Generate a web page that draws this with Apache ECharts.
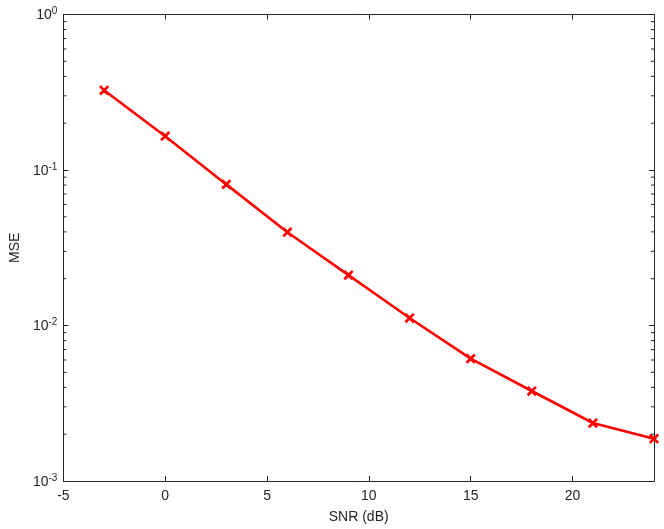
<!DOCTYPE html>
<html><head><meta charset="utf-8">
<script src="https://cdn.jsdelivr.net/npm/echarts@6/dist/echarts.min.js"></script>
<style>html,body{margin:0;padding:0;background:#fff}#c{width:664px;height:529px}</style>
</head><body><div id="c"></div>
<script>
const snr = [-3, 0, 3, 6, 9, 12, 15, 18, 21, 24];
const mse = [0.3255, 0.165, 0.0808, 0.0398, 0.0211, 0.01117, 0.00612, 0.00379, 0.00236, 0.00187];
const xTicks = [-5, 0, 5, 10, 15, 20];
const yMinor = [];
[1e-3, 1e-2, 1e-1].forEach(d => { for (let k = 2; k <= 9; k++) yMinor.push(+(k * d).toPrecision(3)); });

const X_MIN = -5, X_MAX = 24;
const AX = '#262626';
const FONT = 'Liberation Sans';

const chart = echarts.init(document.getElementById('c'), null, {renderer: 'canvas'});
const xBase = {
  type: 'value', min: X_MIN, max: X_MAX, interval: 5,
  axisLine: {show: true, onZero: false, lineStyle: {color: AX, width: 1}},
  axisTick: {show: true, inside: true, length: 5, lineStyle: {color: AX}},
  splitLine: {show: false}
};
const yBase = {
  type: 'log', min: 1e-3, max: 1, logBase: 10, interval: 1,
  axisLine: {show: true, onZero: false, lineStyle: {color: AX, width: 1}},
  axisTick: {show: true, inside: true, length: 5, lineStyle: {color: AX}},
  splitLine: {show: false}
};
chart.setOption({
  animation: false,
  textStyle: {fontFamily: FONT},
  grid: {left: 61.5, right: 10, top: 14.5, bottom: 46.5, containLabel: false},
  xAxis: [
    Object.assign({}, xBase, {
      position: 'bottom', name: 'SNR (dB)', nameLocation: 'middle', nameGap: 29,
      nameTextStyle: {color: AX, fontSize: 14, fontFamily: FONT},
      axisLabel: {show: true, color: AX, fontSize: 14, fontFamily: FONT, margin: 8,
        formatter: v => xTicks.indexOf(v) >= 0 ? String(v) : ''}
    }),
    Object.assign({}, xBase, {position: 'top', axisLabel: {show: false}})
  ],
  yAxis: [
    Object.assign({}, yBase, {
      position: 'left', name: 'MSE', nameLocation: 'middle', nameGap: 35,
      nameTextStyle: {color: AX, fontSize: 14, fontFamily: FONT},
      axisLabel: {show: true, color: AX, margin: 6,
        formatter: v => '{b|10}{s|' + Math.round(Math.log10(v)) + '}',
        rich: {
          b: {fontSize: 14, fontFamily: FONT, color: AX, verticalAlign: 'bottom', lineHeight: 16},
          s: {fontSize: 10, fontFamily: FONT, color: AX, verticalAlign: 'top', padding: [0, 0, 8, 0], lineHeight: 10}
        }}
    }),
    Object.assign({}, yBase, {position: 'right', axisLabel: {show: false}})
  ],
  series: [
    {
      type: 'custom', xAxisIndex: 0, yAxisIndex: 0, silent: true, clip: false,
      data: yMinor.map(v => [X_MIN, v]),
      renderItem: function (params, api) {
        const v = api.value(1);
        const l = api.coord([X_MIN, v]);
        const r = api.coord([X_MAX, v]);
        return {type: 'group', children: [
          {type: 'line', shape: {x1: l[0], y1: l[1], x2: l[0] + 3, y2: l[1]}, style: {stroke: AX, lineWidth: 1}},
          {type: 'line', shape: {x1: r[0], y1: r[1], x2: r[0] - 3, y2: r[1]}, style: {stroke: AX, lineWidth: 1}}
        ]};
      }
    },
    {
      type: 'line', xAxisIndex: 0, yAxisIndex: 0, clip: false,
      data: snr.map((x, i) => [x, mse[i]]),
      lineStyle: {color: '#ff0000', width: 2.6},
      itemStyle: {color: '#ff0000', borderColor: '#ff0000', borderWidth: 1.6},
      symbol: 'path://M1,0L5,4L9,0L10,1L6,5L10,9L9,10L5,6L1,10L0,9L4,5L0,1Z',
      symbolSize: 8, showSymbol: true
    }
  ]
});
</script></body></html>
